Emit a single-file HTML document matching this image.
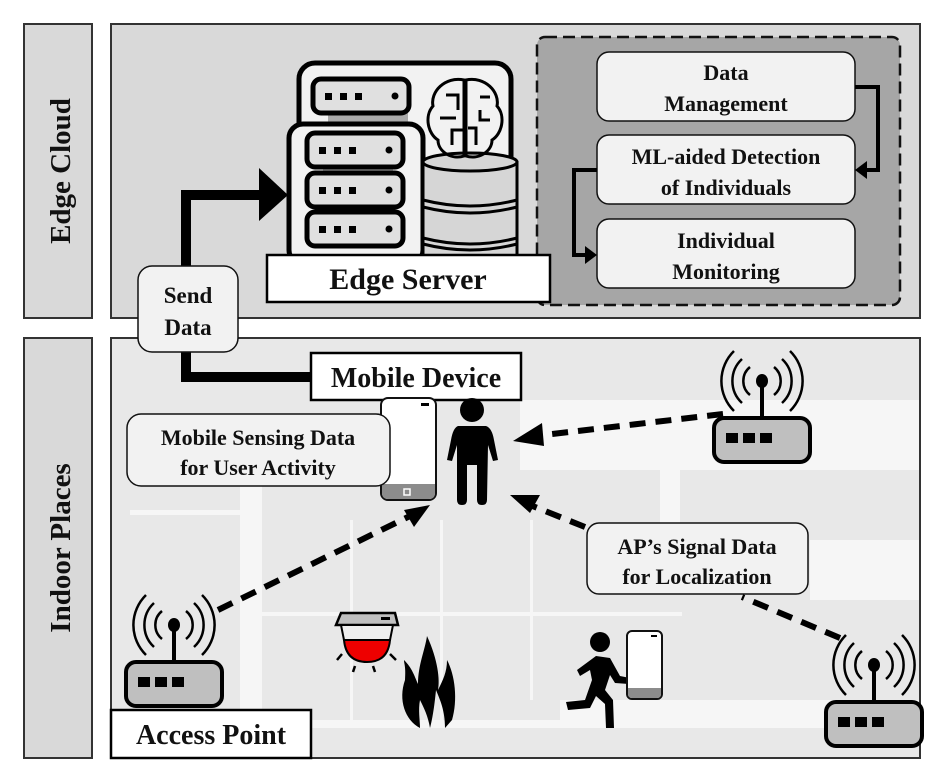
<!DOCTYPE html>
<html><head><meta charset="utf-8"><style>
html,body{margin:0;padding:0;background:#fff;}
svg{display:block;}
text{font-family:"Liberation Serif",serif;font-weight:bold;fill:#111;}
</style></head><body>
<svg width="950" height="783" viewBox="0 0 950 783" xmlns="http://www.w3.org/2000/svg">
<defs>
<g id="ap">
 <path d="M-12,-14 a18,18 0 0,0 0,28 M12,-14 a18,18 0 0,1 0,28 M-20,-22 a30,30 0 0,0 0,44 M20,-22 a30,30 0 0,1 0,44 M-28,-30 a42,42 0 0,0 0,60 M28,-30 a42,42 0 0,1 0,60" fill="none" stroke="#000" stroke-width="2.5"/>
 <ellipse cx="0" cy="0" rx="6" ry="7" fill="#000"/>
 <rect x="-2" y="0" width="4" height="38" fill="#000"/>
 <rect x="-48" y="37" width="96" height="44" rx="10" fill="#bfbfbf" stroke="#000" stroke-width="4"/>
 <rect x="-36" y="52" width="12" height="10" fill="#000"/><rect x="-19" y="52" width="12" height="10" fill="#000"/><rect x="-2" y="52" width="12" height="10" fill="#000"/>
</g>
<g id="unit">
 <rect x="0" y="0" width="96" height="34" rx="8" fill="#e0e0e0" stroke="#000" stroke-width="5"/>
 <rect x="12" y="14" width="7" height="7" fill="#000"/><rect x="27" y="14" width="7" height="7" fill="#000"/><rect x="42" y="14" width="7" height="7" fill="#000"/>
 <circle cx="82" cy="17" r="3.5" fill="#000"/>
</g>
</defs>
<rect x="24" y="24" width="68" height="294" fill="#d9d9d9" stroke="#333" stroke-width="2"/>
<text transform="translate(70,171) rotate(-90)" font-size="29" text-anchor="middle">Edge Cloud</text>
<rect x="24" y="338" width="68" height="420" fill="#d9d9d9" stroke="#333" stroke-width="2"/>
<text transform="translate(70,548) rotate(-90)" font-size="29" text-anchor="middle">Indoor Places</text>
<rect x="111" y="24" width="809" height="294" fill="#d9d9d9" stroke="#333" stroke-width="2"/>
<!-- indoor -->
<rect x="111" y="338" width="809" height="420" fill="#e8e8e8" stroke="#333" stroke-width="2"/>
<g fill="#f6f6f6">
 <rect x="520" y="400" width="399" height="70"/>
 <rect x="660" y="470" width="20" height="60"/>
 <rect x="810" y="540" width="109" height="60"/>
 <rect x="560" y="700" width="359" height="20"/>
 <rect x="111" y="720" width="808" height="8"/>
 <rect x="130" y="510" width="110" height="5"/>
 <rect x="240" y="480" width="22" height="240"/>
 <rect x="350" y="520" width="3" height="200"/>
 <rect x="440" y="520" width="3" height="200"/>
 <rect x="530" y="520" width="3" height="180"/>
 <rect x="262" y="612" width="420" height="4"/>
</g>
<!-- dashed box -->
<rect x="537" y="37" width="363" height="268" rx="8" fill="#a6a6a6" stroke="#111" stroke-width="2.5" stroke-dasharray="12,6"/>
<g fill="#f2f2f2" stroke="#111" stroke-width="1.5">
 <rect x="597" y="52" width="258" height="69" rx="12"/>
 <rect x="597" y="135" width="258" height="69" rx="12"/>
 <rect x="597" y="219" width="258" height="69" rx="12"/>
</g>
<text x="726" y="80" font-size="22" text-anchor="middle">Data</text>
<text x="726" y="111" font-size="22" text-anchor="middle">Management</text>
<text x="726" y="164" font-size="22" text-anchor="middle">ML-aided Detection</text>
<text x="726" y="195" font-size="22" text-anchor="middle">of Individuals</text>
<text x="726" y="248" font-size="22" text-anchor="middle">Individual</text>
<text x="726" y="279" font-size="22" text-anchor="middle">Monitoring</text>
<polyline points="855,87 878,87 878,170 866,170" fill="none" stroke="#000" stroke-width="4"/>
<polygon points="855,170 867,161 867,179" fill="#000"/>
<polyline points="597,170 574,170 574,255 586,255" fill="none" stroke="#000" stroke-width="4"/>
<polygon points="597,255 585,246 585,264" fill="#000"/>
<!-- server icon -->
<rect x="299" y="63" width="212" height="200" rx="16" fill="#f2f2f2" stroke="#000" stroke-width="5"/>
<rect x="328" y="113" width="80" height="12" fill="#aaa"/>
<use href="#unit" x="313" y="79"/>
<rect x="289" y="124" width="134" height="140" rx="14" fill="#f2f2f2" stroke="#000" stroke-width="5"/>
<rect x="323" y="164" width="70" height="10" fill="#aaa"/><rect x="323" y="204" width="70" height="10" fill="#aaa"/>
<use href="#unit" x="307" y="133"/>
<use href="#unit" x="307" y="173"/>
<use href="#unit" x="307" y="212"/>
<path d="M423,160 Q470,150 517,162 L517,258 L423,258 Z" fill="#d6d6d6" stroke="#000" stroke-width="3"/>
<ellipse cx="470" cy="162" rx="47" ry="9" fill="#d6d6d6" stroke="#000" stroke-width="3"/>
<path d="M423,200 Q470,212 517,200 M423,207 Q470,219 517,207 M423,238 Q470,250 517,238 M423,244 Q470,256 517,244" fill="none" stroke="#000" stroke-width="3"/>
<g fill="none" stroke="#000" stroke-width="3">
 <path d="M464,80 C445,76 430,92 433,106 C424,116 428,134 438,140 C438,152 452,160 464,156 Z"/>
 <path d="M466,80 C485,76 500,92 497,106 C506,116 502,134 492,140 C492,152 478,160 466,156 Z"/>
 <path d="M446,95 L458,95 L458,110 M440,118 L456,118 M452,145 L452,130 L463,130 M480,97 L490,97 M480,110 L480,120 L490,120 M476,145 L476,128 L468,128"/>
</g>
<rect x="267" y="255" width="283" height="47" fill="#fff" stroke="#000" stroke-width="2.5"/>
<text x="408" y="289" font-size="30" text-anchor="middle">Edge Server</text>
<polyline points="186,268 186,195 262,195" fill="none" stroke="#000" stroke-width="10"/>
<polygon points="288,195 259,168 259,221" fill="#000"/>
<polyline points="186,350 186,377 312,377" fill="none" stroke="#000" stroke-width="10"/>
<rect x="138" y="266" width="100" height="86" rx="14" fill="#f2f2f2" stroke="#111" stroke-width="1.5"/>
<text x="188" y="303" font-size="23" text-anchor="middle">Send</text>
<text x="188" y="335" font-size="23" text-anchor="middle">Data</text>
<rect x="311" y="353" width="210" height="47" fill="#fff" stroke="#000" stroke-width="2.5"/>
<text x="416" y="387" font-size="28" text-anchor="middle">Mobile Device</text>
<rect x="381" y="398" width="55" height="102" rx="7" fill="#fff" stroke="#111" stroke-width="2"/>
<path d="M382,484 L435,484 L435,493 Q435,499 429,499 L388,499 Q382,499 382,493 Z" fill="#8c8c8c"/>
<rect x="421" y="403" width="8" height="3" fill="#000"/>
<rect x="404" y="489" width="6" height="6" fill="none" stroke="#fff" stroke-width="1.5"/>
<circle cx="472" cy="410" r="12" fill="#000"/>
<path d="M458,426 L486,426 Q492,428 494,440 L498,460 L493,461 L488,445 L487,500 Q487,505 482,505 Q477,505 477,500 L477,465 L467,465 L467,500 Q467,505 462,505 Q457,505 457,500 L457,445 L452,461 L447,460 L451,440 Q453,428 458,426 Z" fill="#000"/>
<rect x="127" y="414" width="263" height="72" rx="14" fill="#f2f2f2" stroke="#111" stroke-width="1.5"/>
<text x="258" y="445" font-size="22" text-anchor="middle">Mobile Sensing Data</text>
<text x="258" y="475" font-size="22" text-anchor="middle">for User Activity</text>
<use href="#ap" x="762" y="381"/>
<use href="#ap" x="174" y="625"/>
<use href="#ap" x="874" y="665"/>
<g stroke="#000" stroke-width="6" stroke-dasharray="16,10" fill="none">
 <line x1="723" y1="414" x2="535" y2="436"/>
 <line x1="218" y1="610" x2="412" y2="515"/>
 <line x1="840" y1="638" x2="742" y2="597"/>
 <line x1="585" y1="527" x2="530" y2="505"/>
</g>
<polygon points="513,441 542,423 544,446" fill="#000"/>
<polygon points="430,505 414,527 404,510" fill="#000"/>
<polygon points="510,495 540,495 530,513" fill="#000"/>
<rect x="587" y="523" width="221" height="71" rx="12" fill="#f2f2f2" stroke="#111" stroke-width="1.5"/>
<text x="697" y="554" font-size="22" text-anchor="middle">AP’s Signal Data</text>
<text x="697" y="584" font-size="22" text-anchor="middle">for Localization</text>
<rect x="111" y="710" width="200" height="48" fill="#fff" stroke="#000" stroke-width="2.5"/>
<text x="211" y="744" font-size="28" text-anchor="middle">Access Point</text>
<path d="M336,625 L341,613 L395,613 L398,625 Z" fill="#bfbfbf" stroke="#000" stroke-width="2.5"/>
<rect x="381" y="617" width="9" height="3" fill="#000"/>
<path d="M341,625 L344,640 L390,640 L393,625 Z" fill="#eee" stroke="#000" stroke-width="2"/>
<path d="M344,640 Q346,662 367,662 Q388,662 390,640 Z" fill="#e00" stroke="#000" stroke-width="2"/>
<g stroke="#000" stroke-width="2.5"><line x1="342" y1="654" x2="337" y2="660"/><line x1="355" y1="666" x2="353" y2="672"/><line x1="373" y1="666" x2="375" y2="672"/><line x1="390" y1="654" x2="396" y2="660"/></g>
<path d="M420,728 C405,720 398,700 405,680 C406,666 404,664 404,660 C412,668 414,675 418,684 C418,665 425,650 427,636 C438,660 440,680 438,690 C443,680 447,672 447,660 C455,675 458,700 452,720 L445,728 C445,710 440,700 436,690 C434,710 432,720 430,728 C428,716 424,708 420,700 C418,710 420,720 420,728 Z" fill="#000"/>
<circle cx="600" cy="642" r="10" fill="#000"/>
<path d="M596,656 L610,658 L620,676 L630,678 L629,684 L615,683 L610,675 L605,690 L613,700 L614,728 L606,728 L605,704 L596,696 L590,708 L568,710 L566,702 L585,700 L592,680 L590,670 L580,676 L577,670 Z" fill="#000"/>
<rect x="627" y="631" width="35" height="68" rx="5" fill="#fff" stroke="#111" stroke-width="2"/>
<rect x="651" y="635" width="6" height="2" fill="#000"/>
<path d="M628,688 L661,688 L661,694 Q661,698 657,698 L632,698 Q628,698 628,694 Z" fill="#8c8c8c"/>
</svg>
</body></html>
